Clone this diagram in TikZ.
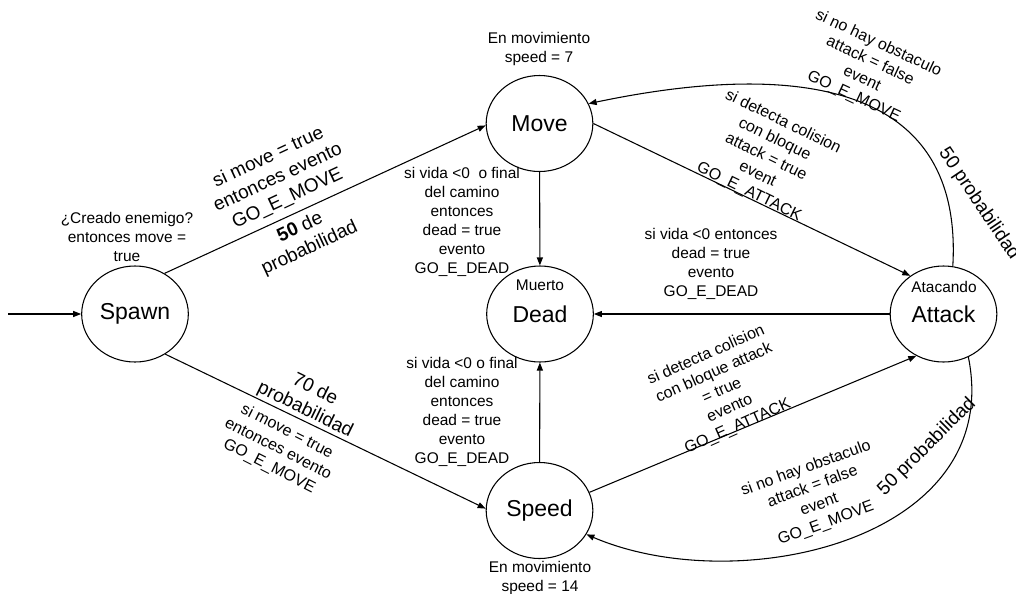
\documentclass[tikz,border=0pt]{standalone}
\usepackage{fontspec}
\setmainfont{Liberation Sans}
\usetikzlibrary{shapes.geometric,arrows.meta}

\begin{document}
\begin{tikzpicture}[x=0.75pt,y=-0.75pt,
  state/.style={ellipse,draw,line width=0.8pt,minimum width=80pt,minimum height=72pt,
                inner sep=0pt,font=\fontsize{17.25}{20}\selectfont},
  tag/.style={font=\fontsize{11.6}{14.25}\selectfont,align=center,inner sep=0pt},
  cond/.style={font=\fontsize{12}{14.6}\selectfont,align=center,inner sep=0pt},
  prob/.style={font=\fontsize{14.25}{17}\selectfont,align=center,inner sep=0pt},
  flow/.style={line width=0.8pt,-{Triangle[length=6pt,width=4.5pt]}},
]
\useasboundingbox (0,0) rectangle (1016,593);

% states
\node[state] (spawn)  at (135,314)     {Spawn};
\node[state] (move)   at (539.5,123.5) {Move};
\node[state] (dead)   at (540,314)     {Dead};
\node[state] (attack) at (943.5,314)   {Attack};
\node[state] (speed)  at (539.5,510.5) {Speed};

% state annotations
\node[tag] (deadtag)   at (540,285) {Muerto};
\node[tag] (attacktag) at (944,287) {Atacando};
\node[tag] (movetag)   at (539,48.5) {En movimiento\\speed = 7};
\node[tag] (speedtag)  at (540,578) {En movimiento\\speed = 14};
\node[tag] (spawntag)  at (127,237) {¿Creado enemigo?\\entonces move =\\true};

% transitions
\coordinate (entry) at (8,314);
\draw[flow] (entry) -- (spawn);
\draw[flow] (spawn.54) -- (move.182);
\draw[flow] (spawn.-53) -- (speed.178);
\draw[flow] (move) -- (dead);
\draw[flow] (speed) -- (dead);
\draw[flow] (attack) -- (dead);
\draw[flow] (move.0) -- (attack.131);
\draw[flow] (speed.20) -- (attack.-123);
\draw[flow] (attack.79) .. controls +(12,-205) and +(167,-35) .. (move.22);
\draw[flow] (attack.-60) .. controls +(37,183) and +(152,65) .. (speed.-27);

% transition labels
\node[prob,rotate=25] (l1a) at (278,178) {si move = true\\entonces evento\\GO\_E\_MOVE};
\node[prob,rotate=25] (l1b) at (305,238) {\textbf{50} de\\probabilidad};
\node[prob,rotate=-26] (l2a) at (310,400) {70 de\\probabilidad};
\node[cond,rotate=-27] (l2b) at (278,449) {si move = true\\entonces evento\\GO\_E\_MOVE};
\node[tag] (l3) at (462,222) {si vida <0\ \ o final\\del camino\\entonces\\dead = true\\evento\\GO\_E\_DEAD};
\node[tag] (l4) at (462,411.5) {si vida <0 o final\\del camino\\entonces\\dead = true\\evento\\GO\_E\_DEAD};
\node[tag] (l5) at (711,263.5) {si vida <0 entonces\\dead = true\\evento\\GO\_E\_DEAD};
\node[cond,rotate=-26] (l6) at (766,157) {si detecta colision\\con bloque\\attack = true\\event\\GO\_E\_ATTACK};
\node[cond,rotate=-25] (l7) at (866,70) {si no hay obstaculo\\attack = false\\event\\GO\_E\_MOVE};
\node[prob,rotate=-56] (l7p) at (979,204) {50 probabilidad};
\node[cond,rotate=24] (l8) at (722,391) {si detecta colision\\con bloque attack\\= true\\evento\\GO\_E\_ATTACK};
\node[cond,rotate=20] (l9) at (816,496) {si no hay obstaculo\\attack = false\\event\\GO\_E\_MOVE};
\node[prob,rotate=45] (l9p) at (927,447) {50 probabilidad};
\end{tikzpicture}
\end{document}
